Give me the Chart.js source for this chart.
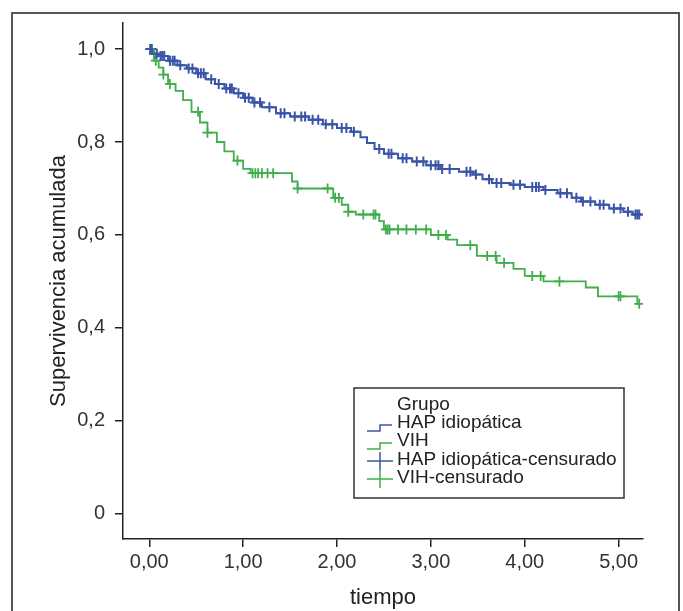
<!DOCTYPE html>
<html>
<head>
<meta charset="utf-8">
<script src="https://cdn.jsdelivr.net/npm/chart.js@4"></script>
<style>
  html, body { margin: 0; padding: 0; background: #fff; }
  #wrap { width: 683px; height: 611px; }
</style>
</head>
<body>
<div id="wrap"><canvas id="kmChart" width="683" height="611"></canvas></div>
<script>
// Kaplan-Meier: tiempos de evento y supervivencia tras cada caída
const hapTimes = [0.03, 0.10, 0.20, 0.30, 0.40, 0.50, 0.60, 0.70, 0.80, 0.90, 1.00, 1.10, 1.20, 1.35, 1.50, 1.70, 1.85, 2.00, 2.15, 2.25, 2.32, 2.40, 2.50, 2.65, 2.80, 2.95, 3.10, 3.30, 3.45, 3.55, 3.65, 3.85, 4.00, 4.20, 4.35, 4.50, 4.60, 4.75, 4.90, 5.05, 5.15];
const hapSurv  = [0.990, 0.985, 0.975, 0.965, 0.958, 0.948, 0.935, 0.925, 0.915, 0.905, 0.895, 0.885, 0.875, 0.862, 0.855, 0.848, 0.838, 0.830, 0.822, 0.810, 0.798, 0.785, 0.775, 0.765, 0.758, 0.750, 0.742, 0.736, 0.730, 0.720, 0.712, 0.708, 0.703, 0.697, 0.690, 0.680, 0.672, 0.665, 0.657, 0.650, 0.644];
const hapCensor = [0.01, 0.02, 0.05, 0.08, 0.12, 0.14, 0.16, 0.22, 0.25, 0.27, 0.33, 0.42, 0.46, 0.52, 0.55, 0.58, 0.66, 0.74, 0.82, 0.86, 0.88, 0.95, 1.02, 1.06, 1.12, 1.18, 1.28, 1.40, 1.44, 1.55, 1.62, 1.66, 1.74, 1.80, 1.88, 1.95, 2.05, 2.10, 2.18, 2.45, 2.55, 2.58, 2.70, 2.74, 2.85, 2.92, 3.00, 3.05, 3.08, 3.12, 3.20, 3.38, 3.42, 3.48, 3.62, 3.70, 3.75, 3.88, 3.95, 4.08, 4.12, 4.15, 4.22, 4.38, 4.45, 4.55, 4.62, 4.70, 4.80, 4.84, 4.95, 5.02, 5.10, 5.18, 5.20, 5.22];

const vihTimes = [0.05, 0.10, 0.15, 0.20, 0.28, 0.36, 0.45, 0.54, 0.62, 0.72, 0.80, 0.90, 1.00, 1.08, 1.52, 1.58, 1.96, 2.05, 2.12, 2.20, 2.45, 2.50, 3.00, 3.18, 3.28, 3.49, 3.70, 3.88, 4.00, 4.20, 4.65, 4.78, 5.20];
const vihSurv  = [0.975, 0.960, 0.945, 0.925, 0.910, 0.890, 0.865, 0.842, 0.820, 0.800, 0.780, 0.760, 0.742, 0.733, 0.715, 0.700, 0.680, 0.665, 0.650, 0.644, 0.630, 0.612, 0.600, 0.590, 0.578, 0.555, 0.540, 0.527, 0.512, 0.500, 0.487, 0.468, 0.452];
const vihCensor = [0.03, 0.07, 0.15, 0.22, 0.52, 0.62, 0.94, 1.10, 1.13, 1.16, 1.20, 1.26, 1.32, 1.58, 1.90, 1.98, 2.02, 2.12, 2.28, 2.39, 2.41, 2.52, 2.54, 2.56, 2.65, 2.74, 2.84, 2.95, 3.08, 3.16, 3.42, 3.60, 3.69, 3.78, 4.08, 4.17, 4.37, 5.00, 5.02, 5.22];

const xTicks = [0, 1, 2, 3, 4, 5];
const yTicks = [0, 0.2, 0.4, 0.6, 0.8, 1.0];
const legendTitle = 'Grupo';
const legendLabels = ['HAP idiopática', 'VIH', 'HAP idiopática-censurado', 'VIH-censurado'];

const BLUE = '#3a55a8';
const GREEN = '#3fae4c';
const FONT = '"Liberation Sans", Arial, Helvetica, sans-serif';

// puntos de la curva escalonada (empieza en 1 y se alarga hasta el último censurado)
function stepPoints(times, surv, endT) {
    const pts = [{ x: 0, y: 1 }];
    times.forEach((t, i) => pts.push({ x: t, y: surv[i] }));
    pts.push({ x: endT, y: surv[surv.length - 1] });
    return pts;
}
// valor de la curva en t (los censurados se marcan sobre la curva)
function survAt(times, surv, t) {
    let s = 1;
    for (let i = 0; i < times.length; i++) { if (times[i] <= t) s = surv[i]; }
    return s;
}
function censorPoints(times, surv, cens) {
    return cens.map(t => ({ x: t, y: survAt(times, surv, t) }));
}

// marco exterior + leyenda dentro del área
const framePlugin = {
    id: 'frame',
    beforeDraw(chart) {
        const ctx = chart.ctx;
        ctx.save();
        ctx.strokeStyle = '#555';
        ctx.lineWidth = 2;
        ctx.strokeRect(12, 13, 667, 640);
        ctx.restore();
    },
    afterDraw(chart) {
        const ctx = chart.ctx;
        const ds = chart.data.datasets;
        const bx = 354, by = 388, bw = 270, bh = 110;
        ctx.save();
        ctx.fillStyle = '#fff';
        ctx.fillRect(bx, by, bw, bh);
        ctx.strokeStyle = '#333';
        ctx.lineWidth = 1.5;
        ctx.strokeRect(bx, by, bw, bh);

        ctx.font = '19px ' + FONT;
        ctx.fillStyle = '#222';
        ctx.textBaseline = 'middle';
        ctx.textAlign = 'left';
        const tx = 397;
        ctx.fillText(legendTitle, tx, 405);
        const rows = [423, 441, 460, 478];
        legendLabels.forEach((lab, i) => {
            const y = rows[i];
            ctx.fillText(lab, tx, y);
            ctx.strokeStyle = ds[i].borderColor;
            ctx.lineWidth = 1.5;
            ctx.beginPath();
            if (i < 2) {
                ctx.moveTo(367, y + 8);
                ctx.lineTo(380, y + 8);
                ctx.lineTo(380, y + 2);
                ctx.lineTo(392, y + 2);
            } else {
                ctx.moveTo(367, y + 1);
                ctx.lineTo(393, y + 1);
                ctx.moveTo(380, y - 8);
                ctx.lineTo(380, y + 10);
            }
            ctx.stroke();
        });
        ctx.restore();
    }
};

const hapEnd = hapCensor[hapCensor.length - 1];
const vihEnd = vihCensor[vihCensor.length - 1];

new Chart(document.getElementById('kmChart'), {
    type: 'line',
    data: {
        datasets: [
            { label: legendLabels[0], data: stepPoints(hapTimes, hapSurv, hapEnd), stepped: true,
              borderColor: BLUE, borderWidth: 2, pointRadius: 0, fill: false },
            { label: legendLabels[1], data: stepPoints(vihTimes, vihSurv, vihEnd), stepped: true,
              borderColor: GREEN, borderWidth: 1.8, pointRadius: 0, fill: false },
            { label: legendLabels[2], data: censorPoints(hapTimes, hapSurv, hapCensor), showLine: false,
              borderColor: BLUE, pointStyle: 'cross', pointRadius: 5, pointBorderWidth: 2 },
            { label: legendLabels[3], data: censorPoints(vihTimes, vihSurv, vihCensor), showLine: false,
              borderColor: GREEN, pointStyle: 'cross', pointRadius: 5, pointBorderWidth: 1.8 }
        ]
    },
    options: {
        responsive: false,
        animation: false,
        layout: { padding: { left: 0, right: 40, top: 23, bottom: 0 } },
        plugins: { legend: { display: false }, tooltip: { enabled: false } },
        scales: {
            x: {
                type: 'linear',
                min: -0.28, max: 5.26,
                afterBuildTicks: s => { s.ticks = xTicks.map(v => ({ value: v })); },
                afterFit: s => { s.height = 72; },
                grid: { drawOnChartArea: false, drawTicks: true, tickLength: 8, color: '#222', lineWidth: 1.5 },
                border: { display: true, color: '#222', width: 1.5 },
                ticks: { padding: 3, color: '#333', font: { family: FONT, size: 20 },
                         callback: v => v.toFixed(2).replace('.', ',') },
                title: { display: true, text: 'tiempo', color: '#222', font: { family: FONT, size: 22 },
                         padding: { top: 0, bottom: 0 } }
            },
            y: {
                type: 'linear',
                min: -0.054, max: 1.056,
                afterBuildTicks: s => { s.ticks = yTicks.map(v => ({ value: v })); },
                afterFit: s => { s.width = 123; },
                grid: { drawOnChartArea: false, drawTicks: true, tickLength: 8, color: '#222', lineWidth: 1.5 },
                border: { display: true, color: '#222', width: 1.5 },
                ticks: { padding: 10, color: '#333', font: { family: FONT, size: 20 },
                         callback: v => v === 0 ? '0' : v.toFixed(1).replace('.', ',') },
                title: { display: true, text: 'Supervivencia acumulada', color: '#222', font: { family: FONT, size: 22 },
                         padding: { top: 46, bottom: 0 } }
            }
        }
    },
    plugins: [framePlugin]
});
</script>
</body>
</html>
